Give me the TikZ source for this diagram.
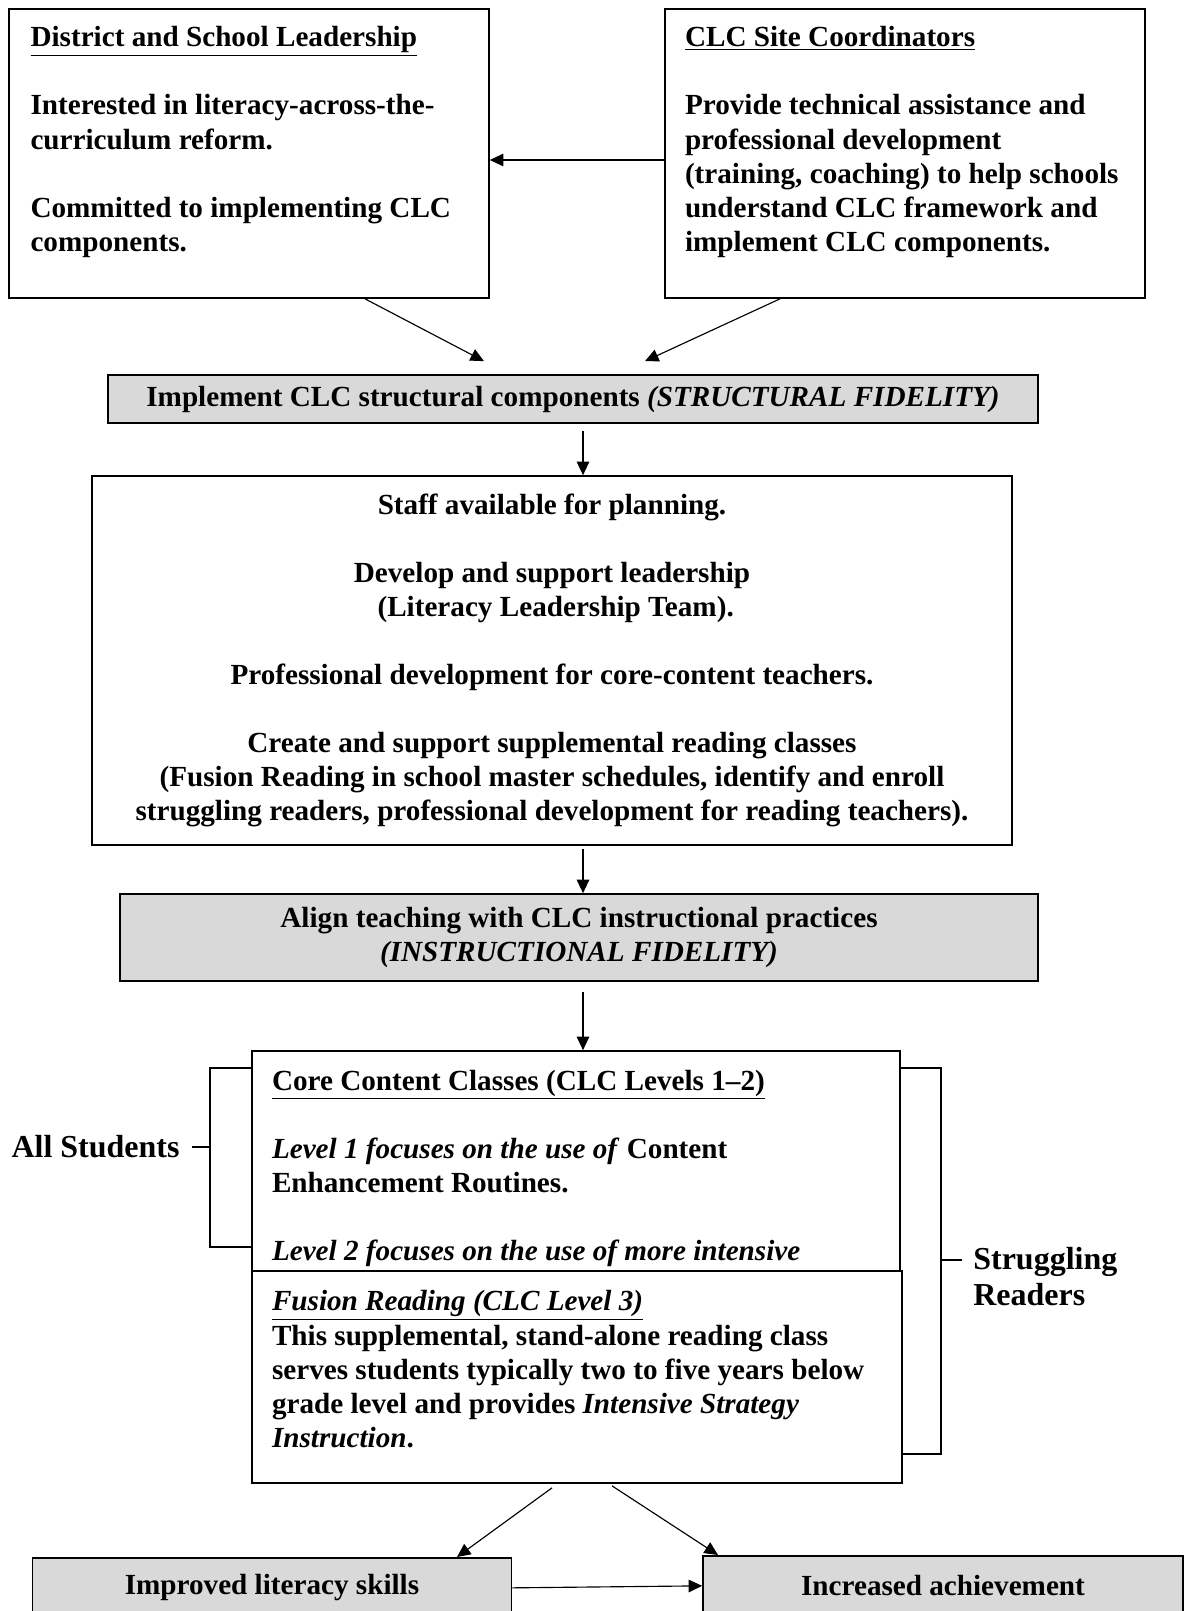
\documentclass[tikz,border=0pt]{standalone}
\usepackage{fontspec}
\setmainfont{Liberation Serif}
\usepackage{xcolor}
\usetikzlibrary{positioning,arrows.meta,calc}
\definecolor{boxgray}{RGB}{217,217,217}

\begin{document}
\begin{tikzpicture}[
    box/.style={draw,line width=0.95pt,inner sep=0pt,font=\bfseries\fontsize{16.6}{19.4}\selectfont},
    grbox/.style={box,fill=boxgray},
    txt/.style={inner sep=0pt,align=left,font=\bfseries\fontsize{16.6}{19.4}\selectfont},
    lbl/.style={inner sep=0pt,align=left,font=\bfseries\fontsize{18.2}{21}\selectfont},
    arr/.style={-{Triangle[length=0.27cm,width=0.25cm]},line width=0.65pt},
    brk/.style={line width=1.4pt}
  ]
    \useasboundingbox (0,0) rectangle (23.7,-32.22);
    \clip (0,0) rectangle (23.7,-32.22);

    % top row
    \node[box,minimum width=9.6cm,minimum height=5.78cm] (dsl) at (4.98,-3.07) {};
    \node[txt,anchor=north west] (dsltxt) at ([xshift=0.44cm,yshift=-0.36cm]dsl.north west)
      {\underline{District and School Leadership}\\[19.4pt]
       Interested in literacy-across-the-\\
       curriculum reform.\\[19.4pt]
       Committed to implementing CLC\\
       components.};
    \node[box,minimum width=9.6cm,minimum height=5.78cm] (site) at (18.1,-3.07) {};
    \node[txt,anchor=north west] (sitetxt) at ([xshift=0.41cm,yshift=-0.36cm]site.north west)
      {\underline{CLC Site Coordinators}\\[19.4pt]
       Provide technical assistance and\\
       professional development\\
       (training, coaching) to help schools\\
       understand CLC framework and\\
       implement CLC components.};
    \draw[arr] ([yshift=-0.13cm]site.west) -- ([yshift=-0.13cm]dsl.east);

    % structural fidelity
    \node[grbox,minimum width=18.6cm,minimum height=0.96cm] (struct) at (11.46,-7.98)
      {Implement CLC structural components \textit{(STRUCTURAL FIDELITY)}};
    \draw[arr] ([xshift=2.32cm]dsl.south) -- ([xshift=-1.78cm,yshift=0.26cm]struct.north);
    \draw[arr] ([xshift=-2.5cm]site.south) -- ([xshift=1.44cm,yshift=0.26cm]struct.north);

    \node[box,align=center,minimum width=18.4cm,minimum height=7.38cm] (staff) at (11.04,-13.21)
      {Staff available for planning.\\[19.4pt]
       Develop and support leadership\\
       \ (Literacy Leadership Team).\\[19.4pt]
       Professional development for core-content teachers.\\[19.4pt]
       Create and support supplemental reading classes\\
       (Fusion Reading in school master schedules, identify and enroll\\
       struggling readers, professional development for reading teachers).};

    \node[grbox,align=center,minimum width=18.36cm,minimum height=1.74cm] (align) at (11.58,-18.75)
      {Align teaching with CLC instructional practices\\
       \textit{(INSTRUCTIONAL FIDELITY)}};

    % classes
    \node[box,align=flush left,text width=12.16cm,inner xsep=0.4cm,minimum height=4.4cm] (core) at (11.52,-23.22)
      {\rule{0pt}{19.8pt}\underline{Core Content Classes (CLC Levels 1--2)}\\[19.4pt]
       \textit{Level 1 focuses on the use of} Content\\
       Enhancement Routines.\\[19.4pt]
       \textit{Level 2 focuses on the use of more intensive}};
    \node[box,align=flush left,text width=12.2cm,inner xsep=0.4cm,minimum height=4.24cm] (fusion) at (11.54,-27.54)
      {\underline{\textit{Fusion Reading (CLC Level 3)}}\\
       This supplemental, stand-alone reading class\\
       serves students typically two to five years below\\
       grade level and provides \textit{Intensive Strategy}\\
       \textit{Instruction}.\rule[-9.1pt]{0pt}{9.1pt}};

    \coordinate (axis) at (11.66,0);
    \draw[arr,shorten <=0.15cm] (struct.south -| axis) -- (staff.north -| axis);
    \draw[arr,shorten <=0.06cm] (staff.south -| axis) -- (align.north -| axis);
    \draw[arr,shorten <=0.2cm] (align.south -| axis) -- (core.north -| axis);

    % brackets
    \node[lbl] (allst) at (1.91,-22.94) {All Students};
    \coordinate (lb) at ([xshift=-0.82cm]core.north west);
    \draw[brk] ([yshift=-0.36cm]core.north west) -| ([yshift=0.5cm]core.south west -| lb)
      -- ([yshift=0.5cm]core.south west);
    \draw[brk] ([xshift=0.24cm]allst.east) -- (allst.east -| lb);

    \node[lbl,anchor=west] (strug) at (19.46,-25.53) {Struggling\\Readers};
    \coordinate (rb) at ([xshift=0.8cm]core.north east);
    \draw[brk] ([yshift=-0.36cm]core.north east) -| ([yshift=0.6cm]fusion.south east -| rb)
      -- ([yshift=0.6cm]fusion.south east);
    \draw[brk] ([xshift=-0.22cm,yshift=0.33cm]strug.west) -- ([yshift=0.33cm]strug.west -| rb);

    % outcomes
    \node[grbox,anchor=north,minimum width=9.58cm,minimum height=1.2cm] (improved) at (5.44,-31.14)
      {Improved literacy skills};
    \node[grbox,anchor=north,minimum width=9.6cm,minimum height=1.2cm] (increased) at (18.86,-31.1)
      {Increased achievement};
    \draw[arr] ([xshift=-0.5cm,yshift=-0.08cm]fusion.south) -- ([xshift=3.7cm]improved.north);
    \draw[arr] ([xshift=0.7cm,yshift=-0.04cm]fusion.south) -- ([xshift=-4.5cm]increased.north);
    \draw[arr] (improved.east) -- (increased.west);
\end{tikzpicture}
\end{document}
